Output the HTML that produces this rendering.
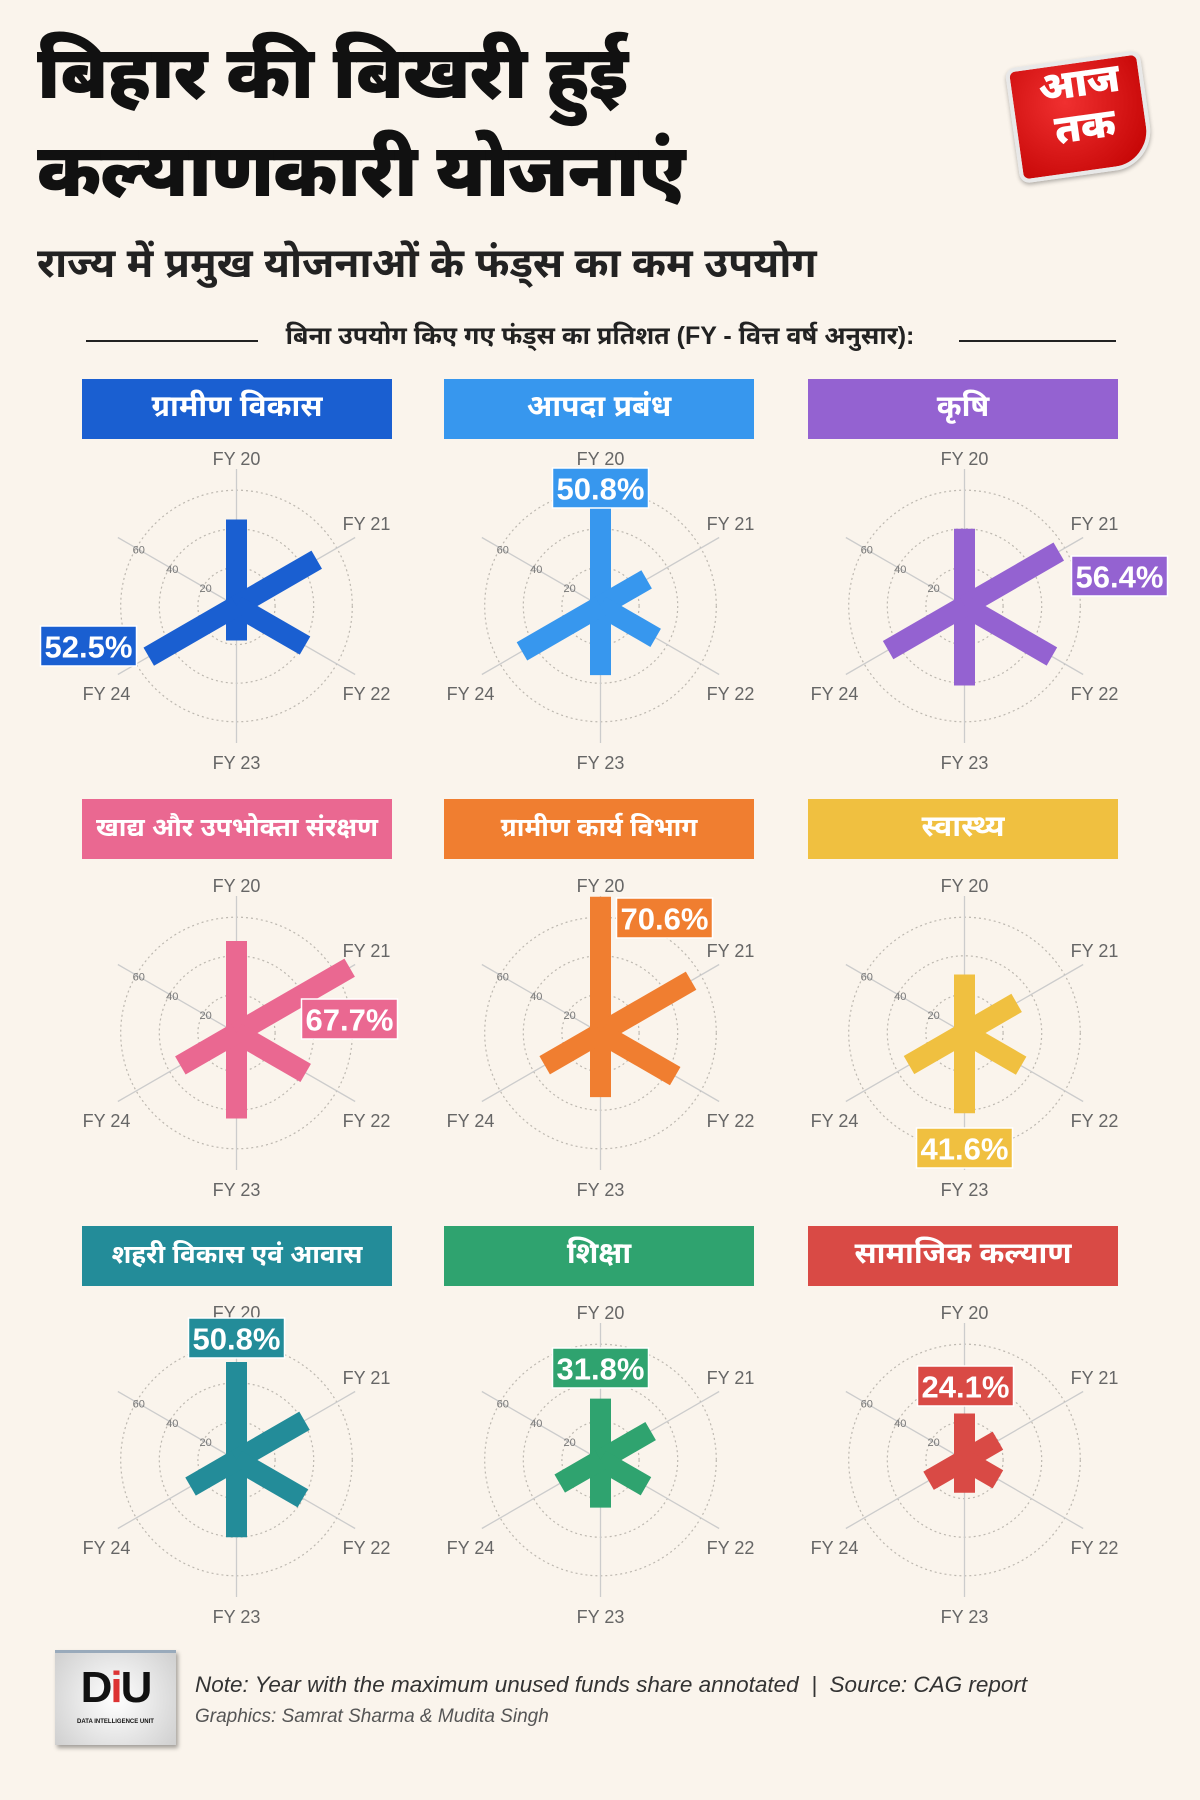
<!DOCTYPE html>
<html><head><meta charset="utf-8">
<style>
html,body{margin:0;padding:0;}
body{width:1200px;height:1800px;background:#faf4ec;position:relative;overflow:hidden;font-family:"Liberation Sans","Noto Sans Devanagari","Lohit Devanagari",sans-serif;}
.abs{position:absolute;}
.title{left:37px;font-weight:900;font-size:74px;color:#111;line-height:1;white-space:nowrap;letter-spacing:-1px;}
.sub{left:37px;top:240px;font-weight:700;font-size:41px;color:#222;white-space:nowrap;}
.sect{top:322px;left:0;width:1200px;text-align:center;font-weight:700;font-size:25px;color:#222;}
.rule{height:2px;background:#222;top:340px;}
.ph{height:60px;color:#fff;font-weight:700;font-size:30px;display:flex;align-items:center;justify-content:center;white-space:nowrap;}
.note{left:195px;top:1672px;font-style:italic;font-size:22.5px;color:#333;white-space:nowrap;}
.cred{left:195px;top:1706px;font-style:italic;font-size:19px;color:#555;white-space:nowrap;}
</style></head>
<body>
<div class="abs title" style="top:36px">बिहार की बिखरी हुई</div>
<div class="abs title" style="top:134px">कल्याणकारी योजनाएं</div>
<div class="abs sub">राज्य में प्रमुख योजनाओं के फंड्स का कम उपयोग</div>
<div class="abs rule" style="left:86px;width:172px"></div>
<div class="abs sect">बिना उपयोग किए गए फंड्स का प्रतिशत (FY - वित्त वर्ष अनुसार):</div>
<div class="abs rule" style="left:959px;width:157px"></div>

<div class="abs" style="left:1000px;top:55px;width:155px;height:120px">
  <div style="position:absolute;left:12px;top:4px;width:128px;height:108px;background:radial-gradient(circle at 40% 35%,#f03030,#c00000);border:4px solid #e8e8e8;border-radius:10px 10px 40px 10px;transform:rotate(-8deg);box-shadow:0 2px 4px rgba(0,0,0,.3)"></div>
  <div style="position:absolute;left:22px;top:6px;width:120px;color:#fff;font-weight:900;font-size:40px;line-height:44px;text-align:center;transform:rotate(-8deg)">आज<br>तक</div>
</div>

<div id="headers"></div>
<svg id="chart" class="abs" style="left:0;top:0" width="1200" height="1800"></svg>

<div class="abs" style="left:55px;top:1650px;width:121px;height:92px;background:radial-gradient(circle,#fff,#cfcfcf);box-shadow:2px 3px 4px rgba(0,0,0,.35);border-top:3px solid #9ab">
  <div style="position:absolute;left:0;top:10px;width:121px;text-align:center;font-weight:900;font-size:44px;color:#111;letter-spacing:-2px">D<span style="color:#d33">i</span>U</div>
  <div style="position:absolute;left:0;top:66px;width:121px;text-align:center;font-weight:700;font-size:6px;color:#111">DATA INTELLIGENCE UNIT</div>
</div>
<div class="abs note">Note: Year with the maximum unused funds share annotated &nbsp;|&nbsp; Source: CAG report</div>
<div class="abs cred">Graphics: Samrat Sharma &amp; Mudita Singh</div>

<script>
const categories = ["FY 20","FY 21","FY 22","FY 23","FY 24"];
const tickValues = [20,40,60];
const tickLabels = ["20","40","60"];
const ruralDevelopment = [44.8,48.0,41.0,17.9,52.5];
const disasterManagement = [50.8,27.6,33.0,35.8,47.0];
const agriculture = [40.0,56.4,52.3,41.2,45.7];
const foodConsumer = [47.7,67.7,41.4,44.3,33.6];
const ruralWorks = [70.6,54.2,44.7,33.2,33.4];
const health = [30.3,31.2,33.9,41.6,33.2];
const urbanHousing = [50.8,40.7,39.7,40.0,27.5];
const education = [31.8,30.0,27.2,24.7,24.4];
const socialWelfare = [24.1,20.0,20.0,17.0,21.5];

const panels = [
 {name:"ग्रामीण विकास",key:"rural-development",data:ruralDevelopment,color:"#1a5fd1",col:0,row:0,ax:-148,ay:40},
 {name:"आपदा प्रबंध",key:"disaster-management",data:disasterManagement,color:"#3797ee",col:1,row:0,ax:0,ay:-118},
 {name:"कृषि",key:"agriculture",data:agriculture,color:"#9462d1",col:2,row:0,ax:155,ay:-30},
 {name:"खाद्य और उपभोक्ता संरक्षण",key:"food-consumer-protection",data:foodConsumer,color:"#ea6891",col:0,row:1,ax:113,ay:-14},
 {name:"ग्रामीण कार्य विभाग",key:"rural-works",data:ruralWorks,color:"#f07e30",col:1,row:1,ax:64,ay:-115},
 {name:"स्वास्थ्य",key:"health",data:health,color:"#f0c040",col:2,row:1,ax:0,ay:115},
 {name:"शहरी विकास एवं आवास",key:"urban-development-housing",data:urbanHousing,color:"#238c99",col:0,row:2,ax:0,ay:-122},
 {name:"शिक्षा",key:"education",data:education,color:"#2fa36f",col:1,row:2,ax:0,ay:-92},
 {name:"सामाजिक कल्याण",key:"social-welfare",data:socialWelfare,color:"#d94a45",col:2,row:2,ax:1,ay:-74}
];

const NS="http://www.w3.org/2000/svg";
const svg=document.getElementById('chart');
const headers=document.getElementById('headers');
const colX=[236.5,600.5,964.5], rowY=[606,1033,1460], hdrLeft=[82,444,808], hdrTop=[379,799,1226];
const labelDX=[0,130,130,0,-130], labelDY=[-147,-82,88,157,88];
const PX=1.93, AXIS=137, BARW=21;
function rScale(v){return v*PX;}
function pt(cx,cy,deg,r){const a=deg*Math.PI/180;return [cx+r*Math.sin(a),cy-r*Math.cos(a)];}
function mk(tag,attrs,parent){const e=document.createElementNS(NS,tag);for(const k in attrs)e.setAttribute(k,attrs[k]);(parent||svg).appendChild(e);return e;}

panels.forEach(p=>{
  const h=document.createElement('div');
  h.className='abs ph';
  h.style.left=hdrLeft[p.col]+'px';h.style.top=hdrTop[p.row]+'px';h.style.width='310px';h.style.background=p.color;
  h.textContent=p.name;
  
  
  if(p.name.length>14)h.style.fontSize='26px';
  headers.appendChild(h);

  const cx=colX[p.col], cy=rowY[p.row];
  const g=mk('g',{});
  
  
  tickValues.forEach(t=>{
    const c=mk('circle',{cx:cx,cy:cy,r:rScale(t),fill:'none',stroke:'#bdb8b0','stroke-width':1.2,'stroke-dasharray':'2 3'},g);
    
    
  });
  for(let i=0;i<6;i++){
    const e=pt(cx,cy,i*60,AXIS);
    const l=mk('line',{x1:cx,y1:cy,x2:e[0],y2:e[1],stroke:'#ccc','stroke-width':1.3},g);
    
    
  }
  tickValues.forEach((t,i)=>{
    const q=pt(cx,cy,300,rScale(t)-3);
    const tx=mk('text',{x:q[0],y:q[1]+1,'font-size':11,fill:'#777','text-anchor':'middle','dominant-baseline':'central','font-family':'Liberation Sans, sans-serif'},g);
    tx.textContent=tickLabels[i];
    
    
  });
  categories.forEach((c,i)=>{
    const tx=mk('text',{x:cx+labelDX[i],y:cy+labelDY[i],'font-size':18,fill:'#666','text-anchor':'middle','dominant-baseline':'central','font-family':'Liberation Sans, sans-serif'},g);
    tx.textContent=c;
    
    
  });
  let mi=0;
  p.data.forEach((v,i)=>{
    if(v>p.data[mi])mi=i;
    const e=pt(cx,cy,i*60,rScale(v));
    const b=mk('line',{x1:cx,y1:cy,x2:e[0],y2:e[1],stroke:p.color,'stroke-width':BARW,'stroke-linecap':'butt'},g);
    
    
  });
  const bx=cx+p.ax, by=cy+p.ay;
  const r=mk('rect',{x:bx-48,y:by-20,width:96,height:40,fill:p.color,stroke:'#fff','stroke-width':1.5},g);
  
  
  const at=mk('text',{x:bx,y:by+1,'font-size':31,'font-weight':'bold',fill:'#fff','text-anchor':'middle','dominant-baseline':'central','font-family':'Liberation Sans Narrow, Liberation Sans, sans-serif'},g);
  at.textContent=p.data[mi].toFixed(1)+'%';
  
  
});
</script>
</body></html>
